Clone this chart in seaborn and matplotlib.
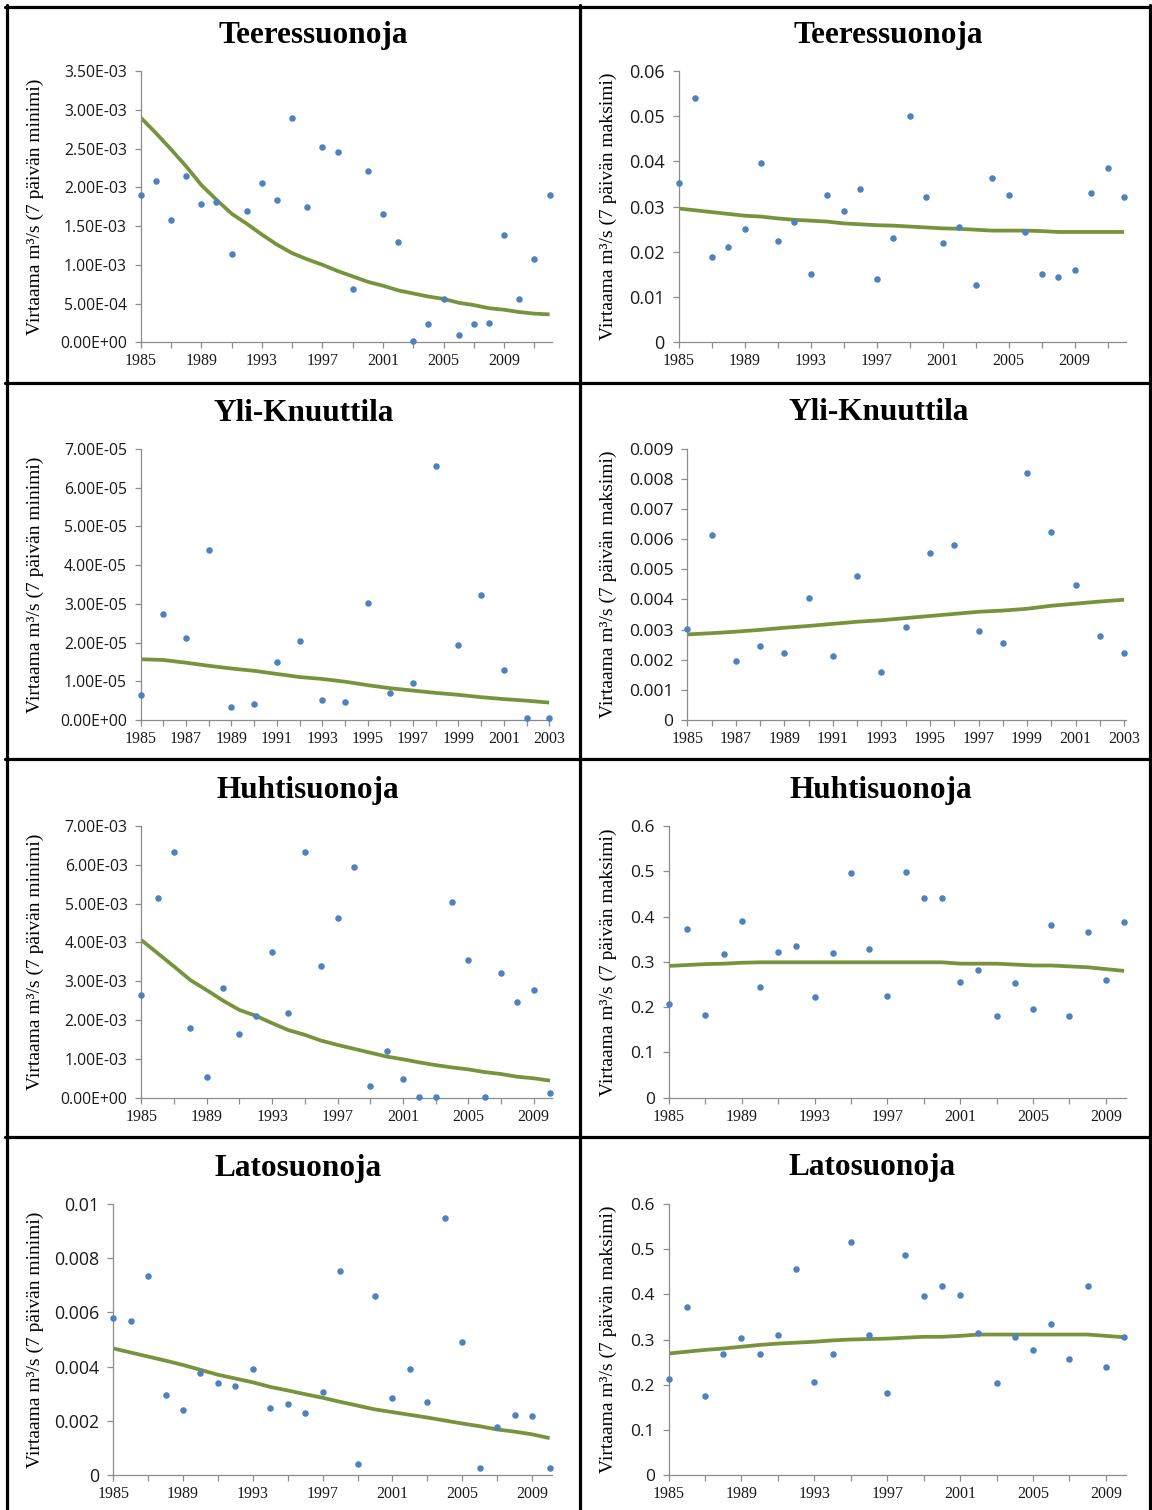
import numpy as np
import pandas as pd
import matplotlib
matplotlib.use("Agg")
import matplotlib.pyplot as plt
import seaborn as sns
from matplotlib.ticker import FuncFormatter
from matplotlib.lines import Line2D

# ---------------- data ----------------
teer_years = list(range(1985, 2013))
teer_min = [1.90e-3, 2.08e-3, 1.58e-3, 2.14e-3, 1.78e-3, 1.81e-3, 1.14e-3, 1.69e-3,
            2.05e-3, 1.84e-3, 2.89e-3, 1.75e-3, 2.52e-3, 2.45e-3, 0.69e-3, 2.21e-3,
            1.65e-3, 1.30e-3, 0.013e-3, 0.23e-3, 0.56e-3, 0.10e-3, 0.23e-3, 0.245e-3,
            1.39e-3, 0.555e-3, 1.08e-3, 1.905e-3]
teer_min_trend = [2.90e-3, 2.70e-3, 2.49e-3, 2.27e-3, 2.03e-3, 1.84e-3, 1.66e-3, 1.53e-3,
                  1.39e-3, 1.26e-3, 1.15e-3, 1.07e-3, 1.00e-3, 0.92e-3, 0.85e-3, 0.78e-3,
                  0.73e-3, 0.67e-3, 0.63e-3, 0.59e-3, 0.56e-3, 0.51e-3, 0.48e-3, 0.44e-3,
                  0.42e-3, 0.39e-3, 0.37e-3, 0.36e-3]
teer_max = [0.0352, 0.0540, 0.0189, 0.0211, 0.0251, 0.0397, 0.0223, 0.0265, 0.0152,
            0.0326, 0.0291, 0.0338, 0.0141, 0.0231, 0.0501, 0.0322, 0.0220, 0.0254,
            0.0127, 0.0364, 0.0326, 0.0245, 0.0150, 0.0145, 0.0159, 0.0331, 0.0386, 0.0322]
teer_max_trend = [0.0296, 0.0292, 0.0288, 0.0284, 0.0280, 0.0278, 0.0274, 0.0271, 0.0269,
                  0.0267, 0.0263, 0.0261, 0.0259, 0.0258, 0.0256, 0.0254, 0.0252, 0.0251,
                  0.0249, 0.0247, 0.0247, 0.0247, 0.0246, 0.0244, 0.0244, 0.0244, 0.0244, 0.0244]

yli_years = list(range(1985, 2004))
yli_min = [0.65e-5, 2.73e-5, 2.11e-5, 4.38e-5, 0.34e-5, 0.41e-5, 1.49e-5, 2.03e-5, 0.52e-5,
           0.47e-5, 3.01e-5, 0.69e-5, 0.96e-5, 6.55e-5, 1.93e-5, 3.22e-5, 1.28e-5, 0.05e-5, 0.05e-5]
yli_min_trend = [1.57e-5, 1.55e-5, 1.48e-5, 1.40e-5, 1.33e-5, 1.27e-5, 1.19e-5, 1.11e-5,
                 1.06e-5, 0.99e-5, 0.90e-5, 0.82e-5, 0.76e-5, 0.70e-5, 0.65e-5, 0.59e-5,
                 0.54e-5, 0.50e-5, 0.45e-5]
yli_max = [3.01e-3, 6.13e-3, 1.96e-3, 2.46e-3, 2.22e-3, 4.04e-3, 2.12e-3, 4.78e-3, 1.58e-3,
           3.09e-3, 5.53e-3, 5.80e-3, 2.95e-3, 2.56e-3, 8.19e-3, 6.23e-3, 4.48e-3, 2.79e-3, 2.22e-3]
yli_max_trend = [2.84e-3, 2.88e-3, 2.93e-3, 2.99e-3, 3.06e-3, 3.12e-3, 3.19e-3, 3.26e-3,
                 3.31e-3, 3.38e-3, 3.45e-3, 3.52e-3, 3.59e-3, 3.63e-3, 3.69e-3, 3.79e-3,
                 3.86e-3, 3.93e-3, 3.99e-3]

huhti_years = list(range(1985, 2011))
huhti_min = [2.65e-3, 5.15e-3, 6.33e-3, 1.80e-3, 0.54e-3, 2.83e-3, 1.65e-3, 2.11e-3, 3.75e-3,
             2.19e-3, 6.33e-3, 3.40e-3, 4.63e-3, 5.95e-3, 0.31e-3, 1.21e-3, 0.47e-3, 0.03e-3,
             0.03e-3, 5.05e-3, 3.56e-3, 0.03e-3, 3.22e-3, 2.47e-3, 2.77e-3, 0.11e-3]
huhti_min_trend = [4.06e-3, 3.72e-3, 3.38e-3, 3.03e-3, 2.77e-3, 2.50e-3, 2.26e-3, 2.11e-3,
                   1.92e-3, 1.74e-3, 1.62e-3, 1.47e-3, 1.36e-3, 1.26e-3, 1.16e-3, 1.06e-3,
                   0.99e-3, 0.91e-3, 0.84e-3, 0.78e-3, 0.73e-3, 0.66e-3, 0.61e-3, 0.54e-3,
                   0.50e-3, 0.44e-3]
huhti_max = [0.207, 0.373, 0.183, 0.318, 0.390, 0.245, 0.322, 0.334, 0.222, 0.320, 0.497,
             0.329, 0.225, 0.499, 0.440, 0.440, 0.256, 0.281, 0.181, 0.254, 0.195, 0.382,
             0.181, 0.365, 0.261, 0.387]
huhti_max_trend = [0.291, 0.293, 0.295, 0.296, 0.298, 0.299, 0.299, 0.299, 0.299, 0.299,
                   0.299, 0.299, 0.299, 0.299, 0.299, 0.299, 0.296, 0.296, 0.296, 0.294,
                   0.292, 0.292, 0.290, 0.288, 0.284, 0.280]

lato_years = list(range(1985, 2011))
lato_min = [5.79e-3, 5.68e-3, 7.33e-3, 2.95e-3, 2.40e-3, 3.76e-3, 3.39e-3, 3.28e-3, 3.91e-3,
            2.47e-3, 2.62e-3, 2.29e-3, 3.06e-3, 7.53e-3, 0.41e-3, 6.59e-3, 2.84e-3, 3.91e-3,
            2.69e-3, 9.47e-3, 4.91e-3, 0.26e-3, 1.76e-3, 2.21e-3, 2.18e-3, 0.26e-3]
lato_min_trend = [4.67e-3, 4.52e-3, 4.37e-3, 4.22e-3, 4.06e-3, 3.88e-3, 3.70e-3, 3.56e-3,
                  3.42e-3, 3.25e-3, 3.12e-3, 2.98e-3, 2.85e-3, 2.70e-3, 2.56e-3, 2.42e-3,
                  2.32e-3, 2.22e-3, 2.12e-3, 2.01e-3, 1.90e-3, 1.80e-3, 1.68e-3, 1.60e-3,
                  1.50e-3, 1.36e-3]
lato_max = [0.212, 0.371, 0.175, 0.269, 0.303, 0.269, 0.311, 0.455, 0.206, 0.269, 0.515,
            0.311, 0.182, 0.486, 0.396, 0.418, 0.398, 0.315, 0.204, 0.306, 0.276, 0.334,
            0.257, 0.418, 0.239, 0.305]
lato_max_trend = [0.269, 0.273, 0.277, 0.280, 0.284, 0.288, 0.291, 0.293, 0.295, 0.298,
                  0.300, 0.301, 0.302, 0.304, 0.306, 0.306, 0.308, 0.311, 0.311, 0.311,
                  0.311, 0.311, 0.311, 0.311, 0.308, 0.305]

label_min = "Virtaama m³/s (7 päivän minimi)"
label_max = "Virtaama m³/s (7 päivän maksimi)"

# ---------------- style ----------------
sns.set_theme(style="white")
plt.rcParams["font.family"] = ["Liberation Serif", "DejaVu Serif"]

W, H = 1152, 1510
fig = plt.figure(figsize=(W / 100, H / 100), dpi=100)
fig.patch.set_facecolor("white")

DOT = "#4F81BD"
TREND = "#77933C"
AXC = "#8C8C8C"

sci = FuncFormatter(lambda v, p: f"{v:.2E}")
gen = FuncFormatter(lambda v, p: f"{round(v, 6):g}")

panels = [
    dict(title="Teeressuonoja", years=teer_years, y=teer_min, tr=teer_min_trend,
         box=(140.7, 549.6, 71, 342.3), ymax=3.5e-3, ystep=0.5e-3, fmt=sci,
         lab=4, tick=2, ylabel=label_min, tx=312.8, ty=43, lx=35, yfs=11.3),
    dict(title="Teeressuonoja", years=teer_years, y=teer_max, tr=teer_max_trend,
         box=(678.5, 1124.1, 71, 342.3), ymax=0.06, ystep=0.01, fmt=gen,
         lab=4, tick=2, ylabel=label_max, tx=888.5, ty=42.7, lx=608.5, yfs=13),
    dict(title="Yli-Knuuttila", years=yli_years, y=yli_min, tr=yli_min_trend,
         box=(140.7, 549.2, 449, 720), ymax=7e-5, ystep=1e-5, fmt=sci,
         lab=2, tick=1, ylabel=label_min, tx=303.6, ty=420.7, lx=35, yfs=11.3),
    dict(title="Yli-Knuuttila", years=yli_years, y=yli_max, tr=yli_max_trend,
         box=(687.3, 1124.1, 448.7, 720), ymax=0.009, ystep=0.001, fmt=gen,
         lab=2, tick=1, ylabel=label_max, tx=878.2, ty=420, lx=608.5, yfs=12.6),
    dict(title="Huhtisuonoja", years=huhti_years, y=huhti_min, tr=huhti_min_trend,
         box=(141.4, 550, 826, 1097.7), ymax=7e-3, ystep=1e-3, fmt=sci,
         lab=4, tick=2, ylabel=label_min, tx=307.7, ty=798.3, lx=35, yfs=11.3),
    dict(title="Huhtisuonoja", years=huhti_years, y=huhti_max, tr=huhti_max_trend,
         box=(669, 1124.1, 826, 1097.7), ymax=0.6, ystep=0.1, fmt=gen,
         lab=4, tick=2, ylabel=label_max, tx=880.4, ty=797.7, lx=608.5, yfs=12.5),
    dict(title="Latosuonoja", years=lato_years, y=lato_min, tr=lato_min_trend,
         box=(113.2, 549.6, 1204, 1475), ymax=0.01, ystep=0.002, fmt=gen,
         lab=4, tick=2, ylabel=label_min, tx=298, ty=1175.7, lx=35, yfs=12.8),
    dict(title="Latosuonoja", years=lato_years, y=lato_max, tr=lato_max_trend,
         box=(668.6, 1124.1, 1204, 1475), ymax=0.6, ystep=0.1, fmt=gen,
         lab=4, tick=2, ylabel=label_max, tx=872.1, ty=1175, lx=608.5, yfs=12.5),
]

for p in panels:
    left, right, top, bottom = p["box"]
    years = p["years"]
    first, last = years[0], years[-1]
    ppy = (right - left) / (last - first)
    extra = 2.0
    ax = fig.add_axes([left / W, 1 - bottom / H, (right - left + extra) / W, (bottom - top) / H])
    df = pd.DataFrame({"year": years, "value": p["y"], "trend": p["tr"]})
    sns.lineplot(data=df, x="year", y="trend", ax=ax, color=TREND, linewidth=2.7,
                 solid_capstyle="butt", zorder=2)
    sns.scatterplot(data=df, x="year", y="value", ax=ax, color=DOT, s=22,
                    linewidth=0, clip_on=False, zorder=3)
    ax.set_xlim(first, last + extra / ppy)
    ax.set_ylim(0, p["ymax"])
    ax.set_xlabel("")
    ax.set_ylabel("")
    for s in ["top", "right"]:
        ax.spines[s].set_visible(False)
    for s in ["left", "bottom"]:
        ax.spines[s].set_color(AXC)
        ax.spines[s].set_linewidth(0.9)
    ax.set_facecolor("none")
    yt = np.arange(0, p["ymax"] + p["ystep"] / 2, p["ystep"])
    ax.set_yticks(yt)
    ax.yaxis.set_major_formatter(p["fmt"])
    xt = list(range(first, last + 1, p["tick"]))
    ax.set_xticks(xt)
    ax.set_xticklabels([str(v) if (v - first) % p["lab"] == 0 else "" for v in xt])
    ax.tick_params(axis="both", direction="out", length=4, width=0.9, color=AXC,
                   left=True, bottom=True)
    ax.tick_params(axis="y", pad=6, labelsize=p["yfs"], labelcolor="#1a1a1a")
    ax.tick_params(axis="x", pad=4, labelsize=11.5, labelcolor="#1a1a1a")
    for t in ax.get_yticklabels():
        t.set_fontfamily(["Open Sans", "DejaVu Sans"])
    for t in ax.get_xticklabels():
        t.set_fontfamily(["Liberation Serif", "DejaVu Serif"])
    ax.grid(False)

    fig.text(p["tx"] / W, 1 - p["ty"] / H, p["title"], ha="center", va="baseline",
             fontsize=22.5, fontweight="bold", color="black",
             family=["Liberation Serif", "DejaVu Serif"])
    fig.text(p["lx"] / W, 1 - ((top + bottom) / 2) / H, p["ylabel"], rotation=90,
             ha="center", va="center", fontsize=14, color="black",
             family=["Liberation Serif", "DejaVu Serif"])

# panel frame lines
def hline(y, x0=0, x1=W, lw=2.3):
    fig.add_artist(Line2D([x0 / W, x1 / W], [1 - y / H, 1 - y / H], color="black",
                          linewidth=lw, transform=fig.transFigure))

def vline(x, y0=0, y1=H, lw=2.3):
    fig.add_artist(Line2D([x / W, x / W], [1 - y0 / H, 1 - y1 / H], color="black",
                          linewidth=lw, transform=fig.transFigure))

hline(6.5, 5, W)
vline(6.5, 5, H)
vline(580, 5, H)
vline(1150, 5, H)
hline(382.5, 5, W)
hline(759, 5, W)
hline(1137, 5, W)

fig.savefig("out.png", dpi=100, facecolor="white")
